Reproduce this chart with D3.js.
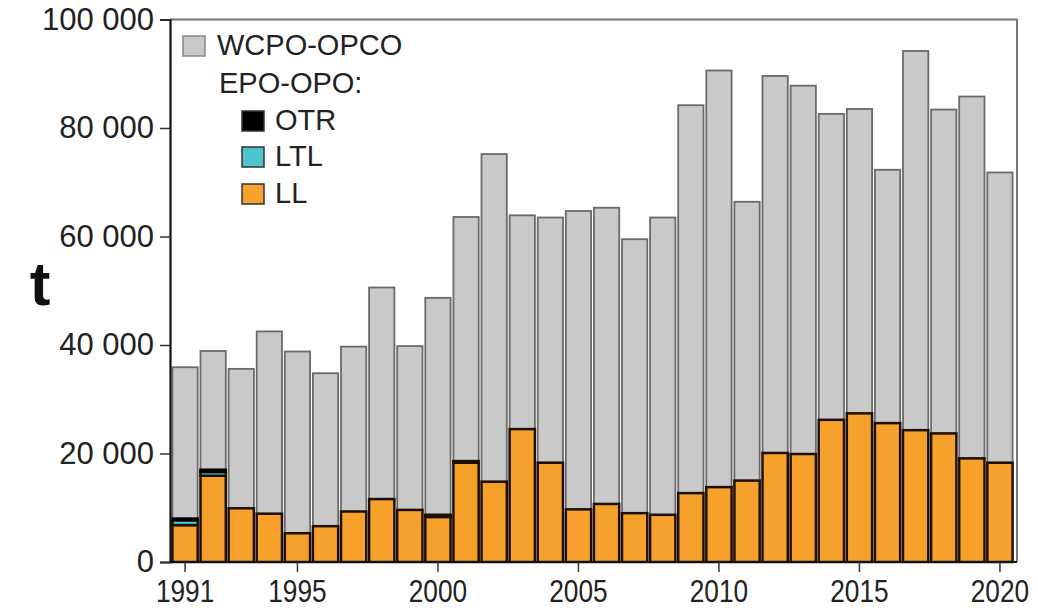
<!DOCTYPE html>
<html><head><meta charset="utf-8">
<script src="https://cdn.jsdelivr.net/npm/d3@7"></script>
<style>body{margin:0;background:#fff}svg{display:block}</style>
</head><body>
<svg id="c" width="1038" height="613"></svg>
<script>
const years = d3.range(1991, 2021);
// thousand tonnes
const LL   = [6.8,15.9,9.9,8.9,5.3,6.6,9.3,11.6,9.6,8.3,18.3,14.8,24.5,18.3,9.7,10.7,9.0,8.7,12.7,13.8,15.0,20.1,19.9,26.2,27.4,25.6,24.3,23.7,19.1,18.3];
const LTL  = [0.9,0.7,0,0,0,0,0,0,0,0.4,0.3,0,0,0,0,0,0,0,0,0,0,0,0,0,0,0,0,0,0,0];
const OTR  = [0.3,0.4,0,0,0,0,0,0,0,0,0,0,0,0,0,0,0,0,0,0,0,0,0,0,0,0,0,0,0,0];
const WCPO = [27.9,21.9,25.7,33.6,33.5,28.2,30.4,39.0,30.2,40.0,45.0,60.4,39.4,45.2,55.0,54.6,50.5,54.8,71.5,76.8,51.4,69.5,67.9,56.4,56.1,46.7,69.9,59.7,66.7,53.5];
const yTicks = [0,20000,40000,60000,80000,100000];
const xTickYears = [1991,1995,2000,2005,2010,2015,2020];
const legendItems = [
  {label:"WCPO-OPCO", key:"WCPO", indent:0},
  {label:"EPO-OPO:", key:null, indent:0},
  {label:"OTR", key:"OTR", indent:1},
  {label:"LTL", key:"LTL", indent:1},
  {label:"LL", key:"LL", indent:1}
];
const colors = {LL:"#f5a12c", LTL:"#4ec4cc", OTR:"#000000", WCPO:"#c9c9c9"};
const strokes = {LL:"#1e0f00", LTL:"#1e0f00", OTR:"#000", WCPO:"#6a6a6a"};

const rows = years.map((y,i)=>({year:y, LL:LL[i]*1000, LTL:LTL[i]*1000, OTR:OTR[i]*1000, WCPO:WCPO[i]*1000}));
const keys = ["LL","LTL","OTR","WCPO"];
const stack = d3.stack().keys(keys)(rows);

const svg = d3.select("#c");
const L=170, R=1017, T=19.5, B=562;
const x = d3.scaleBand().domain(years).range([171,1014]).paddingInner(0.1).paddingOuter(0.05);
const y = d3.scaleLinear().domain([0,100000]).range([B,T]);

svg.append("path").attr("d",`M${L},${T}H${R}V${B}`).attr("fill","none").attr("stroke","#777").attr("stroke-width",2);

const order = ["WCPO","LL","LTL","OTR"];
order.forEach(k=>{
  const s = stack.find(d=>d.key===k);
  svg.append("g").selectAll("rect").data(s.filter(d=>d[1]-d[0]>0)).join("rect")
    .attr("x",d=>x(d.data.year))
    .attr("width",x.bandwidth())
    .attr("y",d=>y(d[1]))
    .attr("height",d=>y(d[0])-y(d[1]))
    .attr("fill",colors[k])
    .attr("stroke",strokes[k])
    .attr("stroke-width",k==="WCPO"?1.8:2.5);
});

const fmt = d=> d3.format(",")(d).replace(/,/g," ");
const yAxis = svg.append("g").attr("transform",`translate(${L},0)`)
  .call(d3.axisLeft(y).tickValues(yTicks).tickFormat(fmt).tickSize(10).tickPadding(6));
yAxis.select(".domain").attr("stroke","#111").attr("stroke-width",2.2);
yAxis.selectAll(".tick line").attr("stroke","#333").attr("stroke-width",1.5);
yAxis.selectAll(".tick text").attr("font-family","Liberation Sans, Arial, sans-serif").attr("font-size",31).attr("fill","#222");

const xAxis = svg.append("g").attr("transform",`translate(0,${B})`)
  .call(d3.axisBottom(x).tickValues(xTickYears).tickSize(10).tickPadding(7));
xAxis.select(".domain").attr("d",`M${L},0H${R}`).attr("stroke","#111").attr("stroke-width",2.2);
xAxis.selectAll(".tick line").attr("stroke","#333").attr("stroke-width",1.5);
xAxis.selectAll(".tick text").attr("font-family","Liberation Sans, Arial, sans-serif").attr("font-size",32)
  .attr("fill","#222").attr("transform","scale(0.82,1)");

svg.append("text").attr("x",40).attr("y",305).attr("text-anchor","middle")
  .attr("font-family","Liberation Sans, Arial, sans-serif").attr("font-weight","bold").attr("font-size",62).attr("fill","#111").text("t");

const lg = svg.append("g");
const rowY = [55,93,130,166,203];
legendItems.forEach((it,i)=>{
  const xs = it.indent? 242 : 183;
  const xt = it.indent? 275 : (it.key? 217 : 219);
  if(it.key){
    lg.append("rect").attr("x",xs).attr("y",rowY[i]-19).attr("width",22).attr("height",20)
      .attr("fill",colors[it.key]).attr("stroke", it.key==="WCPO"?"#888":"#333").attr("stroke-width",1.5);
  }
  lg.append("text").attr("x",xt).attr("y",rowY[i]).attr("font-family","Liberation Sans, Arial, sans-serif")
    .attr("font-size",29).attr("fill","#222").text(it.label);
});
</script>
</body></html>
